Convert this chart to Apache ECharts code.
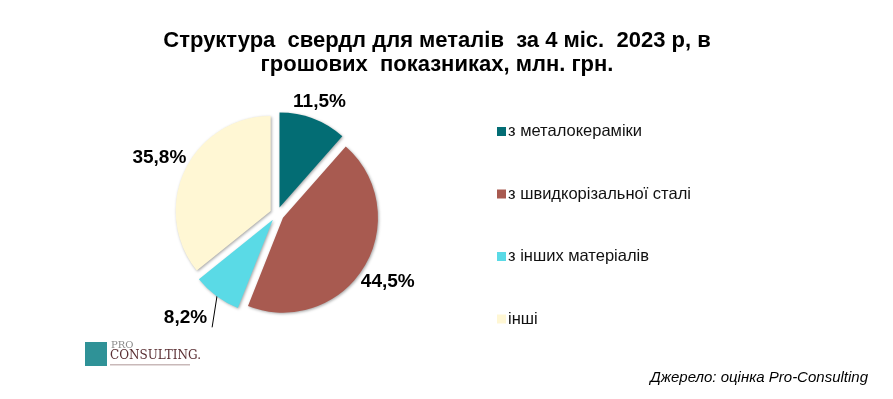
<!DOCTYPE html>
<html>
<head>
<meta charset="utf-8">
<script src="https://cdn.jsdelivr.net/npm/echarts@6/dist/echarts.min.js"></script>
<style>
html,body{margin:0;padding:0;background:#fff;}
#chart{width:893px;height:399px;}
</style>
</head>
<body>
<div id="chart"></div>
<script>
// дані
const categories = ['з металокераміки', 'з швидкорізальної сталі', 'з інших матеріалів', 'інші'];
const shares = [11.5, 44.5, 8.2, 35.8];
const colors = ['#036d74', '#a85a50', '#5adae6', '#fff7d4'];

const cx = 277, cy = 214, R = 95, OFFSET = 7;
const total = shares.reduce((a, b) => a + b, 0);

// середній кут сектора (за годинниковою, від 12 години)
function midAngle(i) {
	let before = 0;
	for (let k = 0; k < i; k++) before += shares[k];
	return (before + shares[i] / 2) / total * Math.PI * 2;
}

const chart = echarts.init(document.getElementById('chart'));

// видимі сектори, розсунуті
let pieData = categories.map((name, i) => ({
	name: name,
	value: shares[i],
	selected: true,
	itemStyle: { color: colors[i] }
}));

// прозорий дублікат тільки для підписів
let labelData = categories.map((name, i) => ({
	name: name,
	value: shares[i],
	labelLine: { show: i === 2 }
}));

let option = {
	animation: false,
	title: {
		text: 'Структура  свердл для металів  за 4 міс.  2023 р, в\nгрошових  показниках, млн. грн.',
		left: 432,
		top: 24,
		textAlign: 'center',
		textStyle: { fontFamily: 'Arial', fontSize: 22, fontWeight: 'bold', color: '#000', lineHeight: 24 }
	},
	legend: {
		orient: 'vertical',
		left: 492,
		top: 118,
		itemGap: 45.5,
		itemWidth: 9,
		itemHeight: 9,
		icon: 'rect',
		selectedMode: false,
		textStyle: { fontFamily: 'Arial', fontSize: 16.5, lineHeight: 16, color: '#111', padding: [0, 0, 0, -3] },
		data: categories
	},
	series: [{
		type: 'pie',
		center: [cx, cy],
		radius: R,
		startAngle: 90,
		selectedMode: 'multiple',
		selectedOffset: OFFSET,
		itemStyle: { shadowBlur: 3, shadowColor: 'rgba(0,0,0,0.35)', shadowOffsetX: 1, shadowOffsetY: 1 },
		label: { show: false },
		labelLine: { show: false },
		emphasis: { disabled: true },
		data: pieData
	}, {
		type: 'pie',
		center: [cx, cy],
		radius: R,
		startAngle: 90,
		silent: true,
		legendHoverLink: false,
		itemStyle: { color: 'rgba(0,0,0,0)' },
		label: {
			show: true,
			position: 'outside',
			formatter: p => String(p.value).replace('.', ',') + '%',
			fontFamily: 'Arial',
			fontSize: 19,
			fontWeight: 'bold',
			color: '#000'
		},
		labelLine: { length: 10, length2: 0, lineStyle: { color: '#000', width: 1 } },
		emphasis: { disabled: true },
		data: labelData
	}],
	graphic: [
		{ type: 'rect', left: 85, top: 342, shape: { width: 22, height: 24 }, style: { fill: '#2f9297' } },
		{ type: 'text', left: 111, top: 340, style: { text: 'PRO', font: '10px "DejaVu Serif"', fill: '#8a8a8a' } },
		{ type: 'text', left: 110, top: 350, style: { text: 'CONSULTING.', font: '12px "DejaVu Serif"', fill: '#5a2f33' } },
		{ type: 'rect', left: 110, top: 364, shape: { width: 80, height: 1.5 }, style: { fill: '#c9b9b9' } },
		{ type: 'text', right: 25, top: 370, style: { text: 'Джерело: оцінка Pro-Consulting', font: 'italic 15px Arial', fill: '#000' } }
	]
};

// підписи за межами сектора, як в Excel
const LEAD_DROP = 32, LEAD_SHIFT = -5;
option.series[1].labelLayout = function (params) {
	const i = params.dataIndex;
	const a = midAngle(i);
	const dx = Math.sin(a), dy = -Math.cos(a);
	const w = params.labelRect.width, h = params.labelRect.height;
	if (i === 2) {
		// виноска: від краю сектора вниз, підпис ліворуч від кінця лінії
		const sx = cx + dx * (R + OFFSET - 1), sy = cy + dy * (R + OFFSET - 1);
		const ex = sx + LEAD_SHIFT, ey = sy + LEAD_DROP;
		return {
			x: ex - 5 - w / 2, y: ey - h / 2, align: 'center', verticalAlign: 'middle',
			labelLinePoints: [[sx, sy], [ex, ey], [ex, ey]]
		};
	}
	const d = R + OFFSET + Math.abs(dx) * w / 2 + Math.abs(dy) * h / 2;
	return { x: cx + dx * d, y: cy + dy * d, align: 'center', verticalAlign: 'middle' };
};

chart.setOption(option);
</script>
</body>
</html>
